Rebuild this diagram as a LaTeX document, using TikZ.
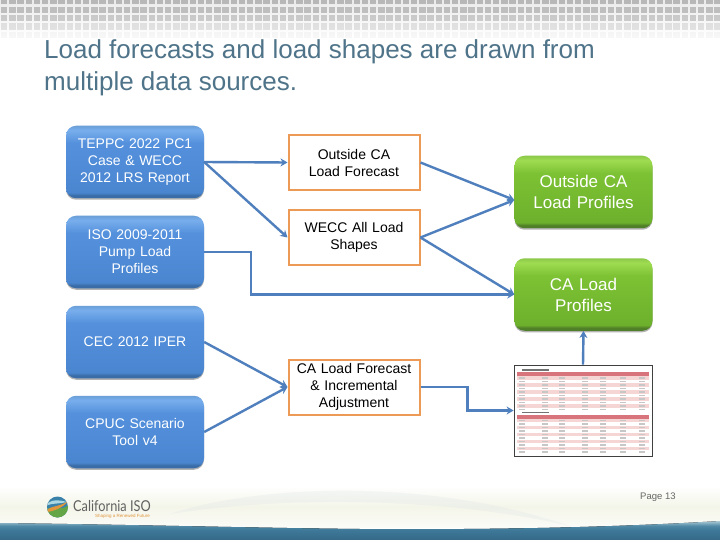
\documentclass[tikz,border=0pt]{standalone}
\usepackage{fontspec}
\setmainfont{Liberation Sans}
\newfontfamily\logofont[FakeStretch=0.85]{Lato}
\usetikzlibrary{shadows,arrows.meta,calc}
\definecolor{titlecol}{HTML}{4F7489}
\definecolor{linecol}{HTML}{4F7FBC}
\definecolor{orangecol}{HTML}{EC9A55}
\definecolor{rowred}{HTML}{D8757C}
\definecolor{rowpink}{HTML}{F6D5D5}
\definecolor{ba}{HTML}{3A6DA8}\definecolor{bb}{HTML}{4A86D0}\definecolor{bc}{HTML}{5490DC}\definecolor{bd}{HTML}{78AEEC}\definecolor{be}{HTML}{6A9FD8}
\definecolor{ga}{HTML}{4F7F28}\definecolor{gb}{HTML}{6DB02C}\definecolor{gc}{HTML}{7DC234}\definecolor{gd}{HTML}{9FDC52}\definecolor{ge}{HTML}{8CC84A}
\definecolor{na}{HTML}{366A88}\definecolor{nb}{HTML}{3D7797}\definecolor{nc}{HTML}{4E88A5}\definecolor{nd}{HTML}{A8C8D4}
\definecolor{fa}{HTML}{FBFBF8}\definecolor{fb}{HTML}{F4F5E9}
\definecolor{ha}{HTML}{EAEAEA}
\definecolor{swoosh}{HTML}{DFE6E6}
\definecolor{logoblue}{HTML}{3A82AA}\definecolor{logogreen}{HTML}{64A546}\definecolor{logoorange}{HTML}{E1963C}\definecolor{logolight}{HTML}{AAD7E1}
\pgfdeclareverticalshading{blueshade}{100bp}{color(0bp)=(ba);color(27bp)=(ba);color(29bp)=(bb);color(63bp)=(bc);color(72bp)=(bd);color(75bp)=(be);color(100bp)=(be)}
\pgfdeclareverticalshading{greenshade}{100bp}{color(0bp)=(ga);color(27bp)=(ga);color(29bp)=(gb);color(63bp)=(gc);color(72bp)=(gd);color(75bp)=(ge);color(100bp)=(ge)}
\pgfdeclareverticalshading{bandshade}{100bp}{color(0bp)=(na);color(25bp)=(na);color(50bp)=(nb);color(62bp)=(nc);color(75bp)=(nd);color(100bp)=(nd)}
\pgfdeclareverticalshading{footshade}{100bp}{color(0bp)=(fa);color(25bp)=(fa);color(50bp)=(fb);color(75bp)=(white);color(100bp)=(white)}
\pgfdeclareverticalshading{headshade}{100bp}{color(0bp)=(white);color(25bp)=(white);color(75bp)=(ha);color(100bp)=(ha)}
\tikzset{
  x=1pt,y=-1pt,
  srcbox/.style={shading=blueshade,draw=none,rounded corners=10pt,minimum width=138pt,minimum height=72.5pt,
    text=white,align=center,font=\fontsize{14}{17}\selectfont,inner sep=0pt,text width=130pt,
    drop shadow={shadow xshift=0pt,shadow yshift=-1.5pt,fill=black,opacity=.3}},
  outbox/.style={shading=greenshade,draw=none,rounded corners=10pt,minimum width=138pt,minimum height=72.5pt,
    text=white,align=center,font=\fontsize{17}{21}\selectfont,inner sep=0pt,text width=130pt,
    drop shadow={shadow xshift=0pt,shadow yshift=-1.5pt,fill=black,opacity=.3}},
  midbox/.style={draw=orangecol,line width=2pt,fill=white,minimum width=131pt,minimum height=55pt,
    text=black,align=center,font=\fontsize{14}{17}\selectfont,inner sep=0pt,text width=125pt},
  conn/.style={draw=linecol,line width=2.4pt,-{Stealth[length=7pt,width=8pt]}},
}
\begin{document}
\begin{tikzpicture}
\useasboundingbox (0,0) rectangle (720,540);
\fill[white] (0,0) rectangle (720,540);
% header
\fill[shading=headshade] (0,0) rectangle (720,36);
\foreach \ry/\op in {-2/.48,6.8/.44,15/.36,23.3/.2,31.6/.06}{
  \foreach \i in {0,...,88}{
    \fill[black!50,opacity=\op] ({8.2*\i+1},\ry) rectangle ++(6.4,6.3);
  }
}
% footer
\fill[shading=footshade] (0,486) rectangle (720,527);
\fill[swoosh,opacity=.3] (170,514) .. controls (260,484) and (430,478) .. (570,526) .. controls (450,498) and (290,495) .. (170,514) -- cycle;
\fill[shading=bandshade] (0,523) .. controls (150,525) and (260,528) .. (360,529)
  .. controls (500,530) and (620,527) .. (720,521) -- (720,540) -- (0,540) -- cycle;
% logo
\fill[logoblue] (57.5,507) circle (10.5pt);
\begin{scope}
\clip (57.5,507) circle (10.5pt);
\fill[logogreen] (46,509) .. controls (52,505) and (60,512) .. (69,505) -- (69,520) -- (46,520) -- cycle;
\fill[logoorange] (47,510) .. controls (53,505) and (60,507) .. (68,501) .. controls (63,508) and (54,511) .. (47,512) -- cycle;
\fill[logolight] (48,503) .. controls (53,499) and (60,500) .. (67,502) .. controls (60,504) and (53,503) .. (48,505) -- cycle;
\end{scope}
\node[anchor=west,inner sep=0pt,text=black!62,font=\logofont\fontsize{15}{18}\selectfont] (logotext) at (73,506) {California ISO};
\node[anchor=east,inner sep=0pt,text=logoorange,font=\fontsize{4.5}{5}\selectfont] (tagline) at (150,516) {Shaping a Renewed Future};
\node[anchor=west,inner sep=0pt,text=black!60,font=\fontsize{9.5}{11}\selectfont] (pagenum) at (640,497) {Page 13};
% title
\node[anchor=north west,inner sep=0pt,text=titlecol,align=left,font=\fontsize{26}{31.5}\selectfont] (title) at (44,39.5)
  {Load forecasts and load shapes are drawn from\\multiple data sources.};
% source boxes
\node[srcbox] (teppc) at (135,162) {TEPPC 2022 PC1\\Case \& WECC\\2012 LRS Report};
\node[srcbox] (iso) at (135,252) {ISO 2009-2011\\Pump Load\\Profiles};
\node[srcbox] (cec) at (135,342) {CEC 2012 IPER};
\node[srcbox] (cpuc) at (135,432) {CPUC Scenario\\Tool v4};
% middle boxes
\node[midbox] (olf) at (354,162.5) {Outside CA\\Load Forecast};
\node[midbox] (wecc) at (354,237.5) {WECC All Load\\Shapes};
\node[midbox] (calf) at (354,387) {CA Load Forecast\\\& Incremental\\Adjustment};
% output boxes
\node[outbox] (olp) at (583.5,192) {Outside CA\\Load Profiles};
\node[outbox] (clp) at (583.5,294.5) {CA Load\\Profiles};
\coordinate (olpin) at ($(olp.west)+(0,8)$);
% table
\node[draw=black!75,line width=.8pt,fill=white,minimum width=138pt,minimum height=91pt,inner sep=0pt] (tbl) at (583,410.5) {};
\fill[black!55] (522,369.2) rectangle (549,371);
\fill[black!55] (522,411.6) rectangle (549,413.4);
\foreach \tp in {372,414.5}{
  \fill[rowred] (517,\tp) rectangle (649,\tp+4);
  \foreach \r in {0,...,9}{
    \pgfmathsetmacro{\yy}{\tp+4+3.5*\r}
    \pgfmathparse{int(mod(\r,2))}
    \ifnum\pgfmathresult=0 \fill[rowpink] (517,\yy) rectangle (649,\yy+3.5);\fi
    \foreach \cx in {522,545,562,585,603,623,642}{
      \fill[black!22] (\cx-3,\yy+1) rectangle (\cx+3,\yy+2.5);
    }
  }
}
% connectors
\draw[conn] (teppc.east) -- (olf.west);
\draw[conn] (teppc.east) -- (wecc.west);
\draw[conn] (iso.east) -- ++(47,0) |- (clp.west);
\draw[conn] (olf.east) -- (olpin);
\draw[conn] (wecc.east) -- (olpin);
\draw[conn] (wecc.east) -- (clp.west);
\draw[conn] (cec.east) -- (calf.west);
\draw[conn] (cpuc.east) -- (calf.west);
\draw[conn] (calf.east) -- ++(47,0) |- (tbl.west);
\draw[conn] (tbl.north) -- (clp.south);
\end{tikzpicture}
\end{document}
